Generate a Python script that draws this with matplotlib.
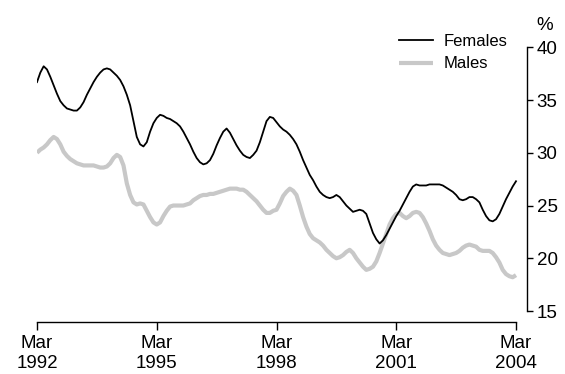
import numpy as np
import matplotlib
matplotlib.use("Agg")
import matplotlib.pyplot as plt

plt.rcParams['font.family'] = ['Liberation Sans', 'DejaVu Sans']

# Monthly values, Mar 1992 to Mar 2004 (%)
females = [36.7, 37.6, 38.2, 37.9, 37.2, 36.4, 35.6, 34.9, 34.5, 34.2,
           34.1, 34.0, 34.0, 34.3, 34.8, 35.5, 36.1, 36.7, 37.2, 37.6,
           37.9, 38.0, 37.9, 37.6, 37.3, 36.9, 36.3, 35.5, 34.5, 33.0,
           31.5, 30.8, 30.6, 31.0, 32.0, 32.8, 33.3, 33.6, 33.5, 33.3,
           33.2, 33.0, 32.8, 32.5, 32.0, 31.4, 30.8, 30.1, 29.5, 29.1,
           28.9, 29.0, 29.3, 29.9, 30.7, 31.4, 32.0, 32.3, 31.9, 31.3,
           30.7, 30.2, 29.8, 29.6, 29.5, 29.8, 30.2, 31.0, 32.0, 33.0,
           33.4, 33.3, 32.9, 32.5, 32.2, 32.0, 31.7, 31.3, 30.8, 30.1,
           29.3, 28.6, 27.9, 27.4, 26.8, 26.3, 26.0, 25.8, 25.7, 25.8,
           26.0, 25.8, 25.4, 25.0, 24.7, 24.4, 24.5, 24.6, 24.5, 24.2,
           23.3, 22.4, 21.8, 21.4, 21.7, 22.2, 22.8, 23.4, 24.0, 24.5,
           25.1, 25.7, 26.3, 26.8, 27.0, 26.9, 26.9, 26.9, 27.0, 27.0,
           27.0, 27.0, 26.9, 26.7, 26.5, 26.3, 26.0, 25.6, 25.5, 25.6,
           25.8, 25.8, 25.6, 25.3, 24.6, 24.0, 23.6, 23.5, 23.7, 24.2,
           24.9, 25.6, 26.2, 26.8, 27.3]
males = [30.0, 30.3, 30.5, 30.8, 31.2, 31.5, 31.3, 30.8, 30.1, 29.7,
         29.4, 29.2, 29.0, 28.9, 28.8, 28.8, 28.8, 28.8, 28.7, 28.6,
         28.6, 28.7, 29.0, 29.5, 29.8, 29.6, 28.8, 27.1, 26.0, 25.3,
         25.1, 25.2, 25.1, 24.5, 23.9, 23.4, 23.2, 23.4, 24.0, 24.5,
         24.9, 25.0, 25.0, 25.0, 25.0, 25.1, 25.2, 25.5, 25.7, 25.9,
         26.0, 26.0, 26.1, 26.1, 26.2, 26.3, 26.4, 26.5, 26.6, 26.6,
         26.6, 26.5, 26.5, 26.3, 26.0, 25.7, 25.4, 25.0, 24.6, 24.3,
         24.3, 24.5, 24.6, 25.2, 25.9, 26.3, 26.6, 26.4, 26.0, 25.0,
         23.9, 23.0, 22.3, 21.9, 21.7, 21.5, 21.2, 20.8, 20.5, 20.2,
         20.0, 20.1, 20.3, 20.6, 20.8, 20.5, 20.0, 19.6, 19.2, 18.9,
         19.0, 19.2, 19.7, 20.5, 21.4, 22.3, 23.2, 23.8, 24.2, 24.3,
         24.0, 23.8, 24.0, 24.3, 24.4, 24.3, 23.9, 23.3, 22.6, 21.8,
         21.2, 20.8, 20.5, 20.4, 20.3, 20.4, 20.5, 20.7, 21.0, 21.2,
         21.3, 21.2, 21.1, 20.8, 20.7, 20.7, 20.7, 20.5, 20.1, 19.6,
         18.9, 18.5, 18.3, 18.2, 18.4]
tick_pos = [0, 36, 72, 108, 144]
tick_labels = ["Mar\n1992", "Mar\n1995", "Mar\n1998", "Mar\n2001", "Mar\n2004"]
y_ticks = [15, 20, 25, 30, 35, 40]

x = np.arange(len(females))

fig = plt.figure(figsize=(5.65, 3.74), dpi=100)
ax = fig.add_axes([37 / 565, 1 - 322 / 374, 490 / 565, 292 / 374])

ax.plot(x, males, color="#c8c8c8", lw=3.0, label="Males",
        solid_capstyle="butt", solid_joinstyle="round")
ax.plot(x, females, color="black", lw=1.3, label="Females",
        solid_joinstyle="round")

px_per_month = 479 / 144
ax.set_xlim(0, 144 + 11 / px_per_month)
ax.set_ylim(15 - 11 / 10.56, 40 + 17.3 / 10.56)

for s in ["top", "left"]:
    ax.spines[s].set_visible(False)
ax.spines["bottom"].set_bounds(0, 144)
ax.spines["right"].set_bounds(15, 40)
for s in ["bottom", "right"]:
    ax.spines[s].set_linewidth(1.0)

ax.set_xticks(tick_pos)
ax.set_xticklabels(tick_labels, fontsize=13.5, linespacing=1.3)
ax.tick_params(axis="x", direction="out", length=5.5, width=1.0, pad=3.5)
ax.yaxis.tick_right()
ax.set_yticks(y_ticks)
ax.set_yticklabels([str(v) for v in y_ticks], fontsize=13.5)
ax.tick_params(axis="y", direction="out", length=4.5, width=1.0, pad=2.5)

fig.text(545 / 565, 1 - 26 / 374, "%", fontsize=13.5, ha="center", va="center")

handles, labels = ax.get_legend_handles_labels()
ax.legend(handles[::-1], labels[::-1], frameon=False, fontsize=12,
          loc="upper left", bbox_to_anchor=(399 / 565, 1 - 34 / 374),
          bbox_transform=fig.transFigure, borderaxespad=0, borderpad=0,
          handlelength=2.05, handletextpad=0.6, labelspacing=0.45)

fig.savefig("out.png", dpi=100)
